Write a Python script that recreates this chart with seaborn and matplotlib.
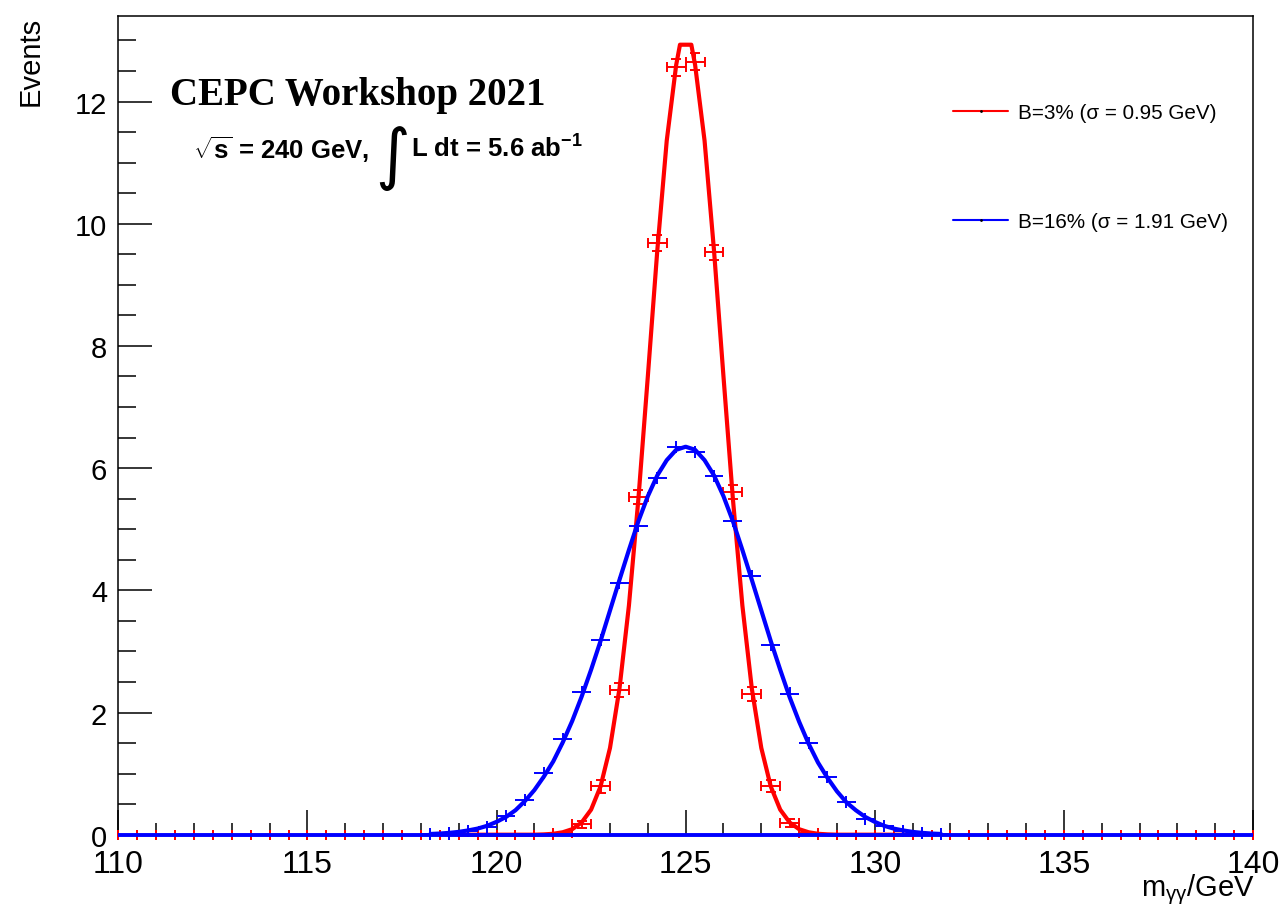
import numpy as np
import pandas as pd
import matplotlib
matplotlib.use("Agg")
import matplotlib.pyplot as plt
from matplotlib.lines import Line2D
from matplotlib.ticker import MultipleLocator
import seaborn as sns

# ---------------- data ----------------
bin_centers = [110.25 + 0.5 * i for i in range(60)]

red_counts = [0.0] * 23 + [0.03, 0.17, 0.79, 2.37, 5.53, 9.68, 12.56, 12.65,
                           9.53, 5.61, 2.30, 0.80, 0.19, 0.03] + [0.0] * 23
red_errors = [0.0] * 23 + [0.02, 0.06, 0.10, 0.11, 0.12, 0.13, 0.14, 0.14,
                           0.13, 0.12, 0.11, 0.10, 0.06, 0.02] + [0.0] * 23
blue_counts = [0.0] * 16 + [0.01, 0.02, 0.06, 0.13, 0.31, 0.57, 1.01, 1.56,
                            2.34, 3.19, 4.12, 5.05, 5.84, 6.34, 6.27, 5.87,
                            5.14, 4.24, 3.10, 2.31, 1.50, 0.95, 0.53, 0.26,
                            0.14, 0.06, 0.03, 0.01] + [0.0] * 16

red_fit_x = [119.0, 121.0, 121.25, 121.5, 121.75, 122.0, 122.25, 122.5, 122.75,
             123.0, 123.25, 123.5, 123.75, 124.0, 124.25, 124.5, 124.75, 124.85,
             125.15, 125.25, 125.5, 125.75, 126.0, 126.25, 126.5, 126.75, 127.0,
             127.25, 127.5, 127.75, 128.0, 128.25, 128.5, 128.75, 129.0, 131.0]
red_fit_y = [0.0, 0.0, 0.005, 0.015, 0.04, 0.09, 0.20, 0.41, 0.79,
             1.42, 2.39, 3.75, 5.49, 7.50, 9.56, 11.36, 12.60, 12.93,
             12.93, 12.60, 11.36, 9.56, 7.50, 5.49, 3.75, 2.39, 1.42,
             0.79, 0.41, 0.20, 0.09, 0.04, 0.015, 0.005, 0.0, 0.0]

blue_fit_x = [118.25, 118.5, 118.75, 119.0, 119.25, 119.5, 119.75, 120.0, 120.25,
              120.5, 120.75, 121.0, 121.25, 121.5, 121.75, 122.0, 122.25, 122.5,
              122.75, 123.0, 123.25, 123.5, 123.75, 124.0, 124.25, 124.5, 124.75,
              125.0, 125.25, 125.5, 125.75, 126.0, 126.25, 126.5, 126.75, 127.0,
              127.25, 127.5, 127.75, 128.0, 128.25, 128.5, 128.75, 129.0, 129.25,
              129.5, 129.75, 130.0, 130.25, 130.5, 130.75, 131.0, 131.25, 131.5,
              131.75]
blue_fit_y = [0.012, 0.019, 0.03, 0.046, 0.07, 0.10, 0.145, 0.21, 0.29,
              0.40, 0.55, 0.73, 0.95, 1.20, 1.51, 1.86, 2.26, 2.70,
              3.17, 3.67, 4.17, 4.66, 5.13, 5.54, 5.88, 6.13, 6.30,
              6.35, 6.30, 6.13, 5.88, 5.54, 5.13, 4.66, 4.17, 3.67,
              3.17, 2.70, 2.25, 1.85, 1.49, 1.18, 0.93, 0.71, 0.53,
              0.40, 0.29, 0.21, 0.145, 0.10, 0.07, 0.046, 0.03, 0.019,
              0.012]

red_label = "B=3% (σ = 0.95 GeV)"
blue_label = "B=16% (σ = 1.91 GeV)"

# ---------------- style ----------------
sns.set_theme(style="ticks")
plt.rcParams["font.family"] = ["Liberation Sans", "DejaVu Sans"]
plt.rcParams["mathtext.fontset"] = "custom"
plt.rcParams["mathtext.rm"] = "Liberation Sans"
plt.rcParams["mathtext.it"] = "Liberation Sans:italic"
plt.rcParams["mathtext.bf"] = "Liberation Sans:bold"
plt.rcParams["mathtext.sf"] = "Liberation Sans"
plt.rcParams["text.color"] = "black"
plt.rcParams["axes.labelcolor"] = "black"
plt.rcParams["xtick.color"] = "black"
plt.rcParams["ytick.color"] = "black"
plt.rcParams["xtick.labelcolor"] = "black"
plt.rcParams["ytick.labelcolor"] = "black"

W, H = 1287, 912
fig = plt.figure(figsize=(W / 100, H / 100), dpi=100)
ax = fig.add_axes([118.3 / W, 1 - 835.7 / H, (1253 - 118.3) / W, (835.7 - 17) / H])

RED = "#ff0000"
BLUE = "#0000ff"

df_red = pd.DataFrame({"x": red_fit_x, "y": red_fit_y})
df_blue = pd.DataFrame({"x": blue_fit_x, "y": blue_fit_y})

# red histogram (fit curve + points with error bars)
sns.lineplot(data=df_red, x="x", y="y", ax=ax, color=RED, linewidth=3.0,
             sort=False, zorder=3)
ax.errorbar(bin_centers, red_counts, xerr=0.25, yerr=red_errors, fmt="none",
            ecolor=RED, elinewidth=1.4, capsize=3.5, capthick=1.4, zorder=4)

# blue histogram
blue_yerr = [0.1 if v > 0 else 0.0 for v in blue_counts]
ax.errorbar(bin_centers, blue_counts, xerr=0.25, yerr=blue_yerr, fmt="none",
            ecolor=BLUE, elinewidth=1.4, capsize=0, zorder=5)
sns.lineplot(data=df_blue, x="x", y="y", ax=ax, color=BLUE, linewidth=3.0,
             sort=False, zorder=5)
ax.plot([110, 140], [0, 0], color=BLUE, lw=2.8, zorder=5, solid_capstyle="butt")
for l in ax.lines:
    l.set_clip_on(False)
for c in ax.collections:
    c.set_clip_on(False)

ax.set_xlim(110, 140)
ax.set_ylim(0, 13.4)

ax.xaxis.set_major_locator(MultipleLocator(5))
ax.xaxis.set_minor_locator(MultipleLocator(1))
ax.yaxis.set_major_locator(MultipleLocator(2))
ax.yaxis.set_minor_locator(MultipleLocator(0.5))
ax.tick_params(axis="x", which="major", direction="in", length=18, width=1.1,
               color="black", labelcolor="black", labelsize=23, pad=10, top=False)
ax.tick_params(axis="x", which="minor", direction="in", length=9, width=1.1,
               color="black", top=False)
ax.tick_params(axis="y", which="major", direction="in", length=24.5, width=1.1,
               color="black", labelcolor="black", labelsize=21, pad=8, right=False)
ax.tick_params(axis="y", which="minor", direction="in", length=13, width=1.1,
               color="black", right=False)
for s in ax.spines.values():
    s.set_visible(True)
    s.set_color("black")
    s.set_linewidth(1.1)

ax.set_xlabel("")
ax.set_ylabel("Events", fontsize=21, loc="top", labelpad=22, color="black")
fig.text(1255 / W, 1 - 896 / H, r"m$_{\mathrm{\gamma\gamma}}$/GeV", fontsize=21,
         ha="right", va="baseline", color="black")

# legend
handles = [Line2D([], [], color=RED, lw=1.5, marker=".", markersize=2,
                  markerfacecolor="black", markeredgecolor="black"),
           Line2D([], [], color=BLUE, lw=1.5, marker=".", markersize=2,
                  markerfacecolor="black", markeredgecolor="black")]
leg = fig.legend(handles, [red_label, blue_label], loc="upper left",
                 bbox_to_anchor=(953 / W, 1 - 104 / H), bbox_transform=fig.transFigure,
                 frameon=False, fontsize=14.9, handlelength=2.66, handletextpad=0.48,
                 labelspacing=4.35, borderpad=0, borderaxespad=0)
for t in leg.get_texts():
    t.set_color("black")

# annotations
fig.text(170 / W, 1 - 96 / H, "CEPC Workshop 2021", fontsize=28,
         family=["Liberation Serif", "DejaVu Serif"], fontweight="bold",
         ha="left", va="center", color="black")
t1 = fig.text(193 / W, 1 - 150 / H, r"$\sqrt{\mathbf{s}}$ = 240 GeV,", fontsize=18.5,
              fontweight="bold", ha="left", va="center", color="black")
ax.annotate("∫", xy=(1, 0.5), xycoords=t1, xytext=(4, -6),
            textcoords="offset points", fontsize=48, ha="left", va="center",
            family=["DejaVu Sans"], color="black")
ax.annotate(r"L dt = 5.6 ab$^{\mathbf{-1}}$", xy=(1, 0.5), xycoords=t1,
            xytext=(30, 1), textcoords="offset points", fontsize=18.5,
            fontweight="bold", ha="left", va="center", color="black")

fig.savefig("out.png", dpi=100)
